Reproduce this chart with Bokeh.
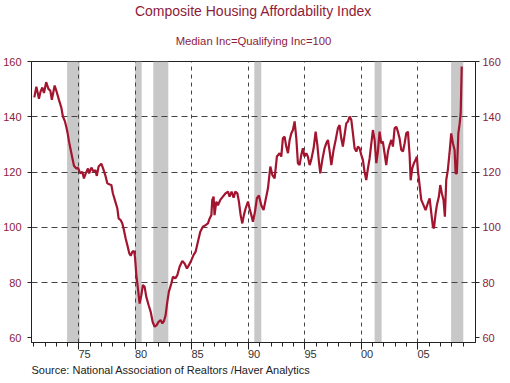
from bokeh.plotting import figure
from bokeh.models import Range1d, LinearAxis, FixedTicker, BoxAnnotation, Title, ColumnDataSource
from bokeh.embed import file_html
from bokeh.resources import INLINE

# ---- data (decimal year, index value) ----
dates = [
    1971.05, 1971.23, 1971.46, 1971.60, 1971.76, 1971.90, 1972.10, 1972.30, 1972.47, 1972.60,
    1972.85, 1973.00, 1973.23, 1973.44, 1973.58, 1973.76, 1973.88, 1974.00, 1974.12, 1974.24,
    1974.42, 1974.56, 1974.77, 1974.92, 1975.12, 1975.30, 1975.44, 1975.60, 1975.80, 1975.90,
    1976.10, 1976.30, 1976.45, 1976.58, 1976.74, 1976.98, 1977.12, 1977.33, 1977.51, 1977.72,
    1977.87, 1978.00, 1978.22, 1978.40, 1978.51, 1978.69, 1978.84, 1978.98, 1979.13, 1979.28,
    1979.46, 1979.58, 1979.73, 1979.87, 1979.96, 1980.08, 1980.22, 1980.37, 1980.52, 1980.66,
    1980.81, 1980.96, 1981.17, 1981.35, 1981.52, 1981.70, 1981.88, 1982.05, 1982.23, 1982.38,
    1982.52, 1982.67, 1982.82, 1982.96, 1983.18, 1983.32, 1983.53, 1983.71, 1983.91, 1984.15,
    1984.35, 1984.56, 1984.73, 1984.95, 1985.15, 1985.33, 1985.53, 1985.74, 1985.97, 1986.21,
    1986.42, 1986.57, 1986.72, 1986.80, 1986.92, 1987.00, 1987.16, 1987.30, 1987.51, 1987.74,
    1987.98, 1988.19, 1988.33, 1988.51, 1988.69, 1988.84, 1989.02, 1989.16, 1989.31, 1989.46,
    1989.60, 1989.75, 1989.96, 1990.10, 1990.26, 1990.40, 1990.58, 1990.75, 1990.93, 1991.14,
    1991.34, 1991.52, 1991.73, 1991.94, 1992.12, 1992.32, 1992.52, 1992.76, 1992.91, 1993.05,
    1993.20, 1993.35, 1993.50, 1993.65, 1993.80, 1993.94, 1994.09, 1994.24, 1994.38, 1994.53,
    1994.68, 1994.82, 1994.96, 1995.12, 1995.26, 1995.42, 1995.56, 1995.77, 1995.95, 1996.10,
    1996.24, 1996.36, 1996.54, 1996.74, 1996.89, 1997.04, 1997.19, 1997.34, 1997.54, 1997.72,
    1997.92, 1998.07, 1998.22, 1998.36, 1998.51, 1998.66, 1998.81, 1998.96, 1999.11, 1999.25,
    1999.40, 1999.55, 1999.69, 1999.84, 1999.99, 2000.13, 2000.28, 2000.43, 2000.58, 2000.73,
    2000.88, 2001.02, 2001.17, 2001.32, 2001.46, 2001.61, 2001.76, 2001.90, 2002.05, 2002.20,
    2002.35, 2002.50, 2002.65, 2002.79, 2002.94, 2003.09, 2003.23, 2003.38, 2003.53, 2003.68,
    2003.83, 2003.97, 2004.12, 2004.27, 2004.36, 2004.50, 2004.65, 2004.80, 2004.91, 2005.00,
    2005.15, 2005.30, 2005.50, 2005.68, 2005.88, 2006.04, 2006.19, 2006.33, 2006.42, 2006.57,
    2006.68, 2006.86, 2006.98, 2007.12, 2007.27, 2007.39, 2007.51, 2007.65, 2007.80, 2007.95,
    2008.10, 2008.25, 2008.34, 2008.45, 2008.58, 2008.70, 2008.79, 2008.88,
]
affordability = [
    147.0, 150.9, 146.5, 149.1, 150.6, 148.6, 152.5, 150.1, 149.4, 146.1,
    151.3, 149.4, 146.1, 143.3, 140.1, 138.3, 136.4, 134.0, 131.0, 128.6,
    125.0, 122.3, 121.3, 121.5, 119.5, 120.1, 117.7, 119.5, 121.3, 119.5,
    121.6, 120.1, 120.7, 118.6, 122.0, 123.0, 121.5, 118.9, 115.9, 115.5,
    115.3, 112.3, 109.3, 106.8, 103.2, 102.6, 101.4, 99.0, 96.0, 93.6,
    90.5, 89.7, 91.2, 91.4, 89.3, 82.7, 77.9, 72.4, 75.4, 79.1,
    78.5, 74.8, 71.8, 69.4, 65.8, 64.0, 64.6, 65.8, 66.4, 65.2,
    66.0, 68.2, 73.0, 76.7, 79.7, 82.1, 81.5, 82.7, 85.7, 87.8,
    86.9, 85.1, 86.3, 88.1, 90.0, 91.2, 94.8, 98.4, 100.2, 100.8,
    101.4, 103.2, 104.4, 109.9, 111.1, 104.4, 109.3, 108.0, 109.9, 111.1,
    112.3, 112.9, 111.1, 112.9, 110.7, 112.9, 112.3, 109.3, 104.4, 101.4,
    104.4, 106.8, 109.3, 106.8, 104.4, 102.0, 105.6, 110.5, 111.5, 108.0,
    106.2, 109.9, 114.1, 122.0, 118.9, 117.7, 125.6, 126.8, 125.6, 132.2,
    132.8, 129.2, 126.8, 131.6, 134.0, 135.2, 138.3, 132.2, 123.2, 122.5,
    126.2, 128.6, 125.6, 126.8, 125.6, 122.5, 124.4, 128.6, 134.6, 129.8,
    123.8, 119.5, 124.4, 128.6, 130.4, 131.6, 127.5, 122.5, 128.0, 131.6,
    135.8, 137.0, 132.2, 129.2, 133.4, 137.6, 138.3, 140.1, 138.8, 134.0,
    128.6, 127.4, 129.2, 128.6, 126.2, 124.4, 120.1, 117.1, 121.3, 125.0,
    130.4, 135.2, 131.6, 123.2, 127.4, 134.6, 130.4, 131.0, 126.8, 122.5,
    127.4, 129.8, 131.6, 129.2, 135.8, 136.4, 134.6, 132.2, 128.0, 127.4,
    130.4, 134.0, 134.6, 126.0, 117.0, 121.3, 123.2, 124.4, 125.6, 120.7,
    115.3, 109.9, 108.0, 106.2, 108.7, 110.5, 105.0, 100.2, 99.6, 105.0,
    108.0, 111.1, 115.3, 112.3, 109.9, 103.8, 117.1, 120.7, 126.8, 134.0,
    130.4, 128.0, 119.5, 119.5, 134.0, 137.6, 141.3, 158.2,
]

recession_start = [1973.95, 1979.96, 1981.58, 1990.52, 2001.17, 2007.94]
recession_end = [1975.06, 1980.55, 1982.91, 1991.14, 2001.79, 2009.02]

year_ticks = [1975, 1980, 1985, 1990, 1995, 2000, 2005]
year_labels = ["75", "80", "85", "90", "95", "00", "05"]
minor_years = list(range(1971, 2010))
value_ticks = [60, 80, 100, 120, 140, 160]
grid_values = [80, 100, 120, 140]

title_text = "Composite Housing Affordability Index"
subtitle_text = "Median Inc=Qualifying Inc=100"
source_text = "Source:  National Association of Realtors /Haver Analytics"

DARK_RED = "#8E1B3A"
LINE_RED = "#A3142F"
FONT = "Liberation Sans"

p = figure(
    frame_width=444, frame_height=281,
    output_backend="svg", toolbar_location=None,
    x_range=Range1d(1970.8, 2010.1), y_range=Range1d(58.3, 160),
    min_border_left=0, min_border_right=0, min_border_top=0, min_border_bottom=0,
    background_fill_color="white", border_fill_color="white",
)
p.outline_line_color = "#222222"
p.outline_line_width = 1

# titles (main title on top, subtitle nearer the frame)
p.title.text = title_text
p.title.align = "center"
p.title.text_font = FONT
p.title.text_font_size = "14px"
p.title.text_font_style = "normal"
p.title.text_color = DARK_RED
p.title.standoff = 0
sub_title = Title(text=subtitle_text, align="center", text_font=FONT, text_font_size="11.3px",
                  text_font_style="normal", text_color=DARK_RED, standoff=29)
p.add_layout(sub_title, "above")

# recession bands
for s, e in zip(recession_start, recession_end):
    p.add_layout(BoxAnnotation(left=s, right=e, fill_color="#C8C8C8", fill_alpha=1.0,
                               line_color=None, level="image"))

# series
src_data = ColumnDataSource(data=dict(x=dates, y=affordability))
p.line("x", "y", source=src_data, line_color=LINE_RED, line_width=2.2)

# x axis: tick marks only
xa = p.xaxis[0]
xa.ticker = FixedTicker(ticks=year_ticks, minor_ticks=minor_years)
xa.major_label_overrides = {t: "" for t in year_ticks}
xa.major_label_text_font_size = "1px"
xa.major_label_standoff = 0
xa.major_tick_in = 0
xa.major_tick_out = 7
xa.minor_tick_in = 0
xa.minor_tick_out = 4
xa.axis_line_color = "#222222"
xa.major_tick_line_color = "#222222"
xa.minor_tick_line_color = "#222222"

# x labels sit just to the right of each year tick
label_axis = LinearAxis(
    ticker=FixedTicker(ticks=[t + 0.5 for t in year_ticks], minor_ticks=[]),
    major_label_overrides={t + 0.5: l for t, l in zip(year_ticks, year_labels)},
    axis_line_color=None, major_tick_line_color=None, minor_tick_line_color=None,
    major_tick_in=0, major_tick_out=0, major_label_standoff=0,
    major_label_text_font=FONT, major_label_text_font_size="11px",
    major_label_text_color="#333333",
)
p.add_layout(label_axis, "below")

src = Title(text=source_text, align="left", text_font=FONT, text_font_size="11px",
            text_font_style="normal", text_color="#222222", standoff=2)
p.add_layout(src, "below")

# y axes
def style_y(ax, standoff):
    ax.ticker = FixedTicker(ticks=value_ticks, minor_ticks=[])
    ax.major_tick_in = 0
    ax.major_tick_out = 4
    ax.minor_tick_line_color = None
    ax.axis_line_color = "#222222"
    ax.major_tick_line_color = "#222222"
    ax.major_label_text_font = FONT
    ax.major_label_text_font_size = "11px"
    ax.major_label_text_color = DARK_RED
    ax.major_label_standoff = standoff

style_y(p.yaxis[0], 6)
right_axis = LinearAxis()
style_y(right_axis, 3)
p.add_layout(right_axis, "right")

# grids
p.xgrid.ticker = FixedTicker(ticks=year_ticks)
p.xgrid.grid_line_color = "#444444"
p.xgrid.grid_line_dash = "4 4"
p.xgrid.grid_line_width = 1
p.ygrid.ticker = FixedTicker(ticks=grid_values)
p.ygrid.grid_line_color = "#444444"
p.ygrid.grid_line_dash = "6 4"
p.ygrid.grid_line_width = 1

open("out.html", "w").write(file_html(p, INLINE))
